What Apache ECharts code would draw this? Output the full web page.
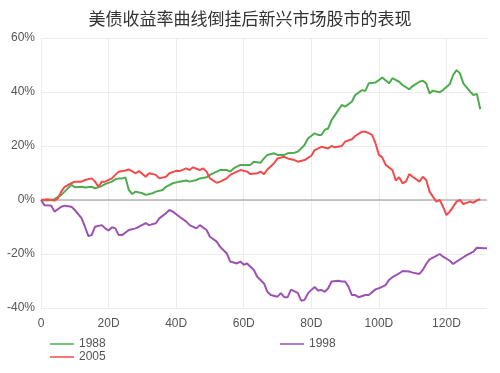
<!DOCTYPE html>
<html>
<head>
<meta charset="utf-8">
<script src="https://cdn.jsdelivr.net/npm/echarts@6/dist/echarts.min.js"></script>
<style>html,body{margin:0;padding:0;background:#fff;}#c{width:500px;height:373px;}</style>
</head>
<body>
<div id="c"></div>
<script>
const titleText = '美债收益率曲线倒挂后新兴市场股市的表现';
const seriesNames = ['1988', '1998', '2005'];
const yTicks = [-40, -20, 0, 20, 40, 60];

const days1988 = [0,2,4,6,7,9,10,12,13,15,16,18,19,21,22,23,24,25,26,27,28,30,31,33,34,36,37,39,41,43,44,46,47,49,50,52,53,55,56,57,59,60,62,63,65,66,67,69,70,72,73,75,76,78,79,81,82,83,84,85,86,88,89,90,92,93,95,96,97,99,100,101,103,104,106,107,109,110,112,113,114,115,116,118,119,121,122,123,124,125,127,128,129,130];
const vals1988 = [0,-0.2,0.3,1.9,3.1,5.6,4.7,4.9,4.6,4.9,4.3,5.2,5.9,6.8,7.7,8,8,8.3,3.7,2.2,3.1,2.5,1.9,2.5,3.1,3.7,4.9,6.2,6.8,7.2,6.8,7.4,8,8.4,9.3,10.5,11.1,11.1,10.5,11.7,13,13,13,14.2,13.8,15.4,16.7,17.3,16.7,16.7,17.3,17.5,17.9,20.4,22.8,24.7,24.1,24.1,26,26.5,29.6,33.3,35.2,34.6,36.4,38.9,40.7,40.4,43.2,43.5,44.4,45.4,43.2,45.1,43.8,42.6,41,42.2,43.8,44.2,43.2,39.5,40.5,39.9,40.7,43,46.3,48.1,46.9,43.2,40.1,38.9,39.3,33.6];

const days1998 = [0,1,3,4,6,7,9,10,12,13,14,15,16,18,19,20,21,22,23,24,26,28,29,31,32,34,35,37,38,39,41,43,44,46,47,49,50,52,53,55,56,58,59,60,61,63,64,66,67,68,70,71,72,73,74,76,77,78,79,80,81,82,83,84,85,86,88,89,90,91,92,93,94,96,97,99,100,102,103,104,106,107,109,110,112,113,114,115,117,118,119,121,122,123,125,126,128,129,131,132];
const vals1998 = [0,-1.9,-2,-4.3,-2.5,-2.1,-2.5,-3.7,-6.7,-9.9,-13.3,-13,-9.9,-9.3,-10.5,-11.3,-10.1,-10.5,-13,-13,-11.1,-10.5,-9.9,-8.6,-9.3,-8.6,-6.8,-4.9,-3.7,-4.3,-6.2,-8,-9.3,-10.5,-9.3,-11.1,-13.6,-15.4,-17.3,-19.8,-22.8,-23.5,-22.8,-24,-23.5,-25.9,-28.4,-30.9,-34,-35.2,-35.8,-34.5,-36,-36,-33.2,-34.4,-37.3,-37,-34.6,-33.3,-32.2,-33.5,-33.3,-34,-32.7,-30.2,-29.9,-30.2,-30.2,-32.1,-35.2,-35.2,-36,-35.2,-35.2,-33.1,-32.7,-31.5,-29.6,-28.6,-27.2,-26.3,-26.5,-26.9,-27.4,-25.9,-23.7,-22,-20.7,-20,-21,-22.5,-23.7,-22.8,-21.2,-20.4,-19.1,-17.7,-17.9,-17.9];

const days2005 = [0,2,4,5,6,7,9,10,12,13,15,16,17,18,19,21,22,23,25,26,28,29,31,32,34,35,37,38,40,41,43,44,45,47,48,49,50,52,53,55,56,58,59,61,62,64,65,66,67,69,70,72,73,75,76,78,80,81,83,85,86,87,89,90,92,93,95,96,98,99,100,101,102,104,105,106,107,108,109,110,112,113,114,115,117,118,119,120,121,123,124,125,127,128,129,130];
const vals2005 = [0,0.3,-0.2,0.6,3.1,4.9,6.2,6.8,6.8,7.4,8,6.8,4.9,6.8,6.8,8,9.3,10.5,10.9,11.3,9.9,10.7,8.6,9.9,9.3,8,8.6,9.9,10.8,10.7,11.7,11.1,12.1,11.1,11.7,10.5,8,6.4,6.8,8,9.3,10.5,11.1,10.5,9.6,9.9,10.5,9.6,11.3,13.6,15.4,16,15.4,14.8,14.2,14.8,16.4,18.5,19.7,19.1,20,19.5,20,21.6,22.5,23.7,25.3,25.3,24.1,21,16.7,15.8,13,11.1,7.2,8.4,6.2,6.8,9.6,8.6,6.8,8.6,7.4,3.1,-0.6,0,-2.5,-5.6,-4.3,-0.6,0,-1.5,-0.6,-1,-0.2,0.3];

const colors = {'1988': '#4fab4f', '1998': '#9c52b2', '2005': '#f24b4b'};
const zip = (d, v) => d.map((x, i) => [x, v[i]]);
const dataMap = {'1988': zip(days1988, vals1988), '1998': zip(days1998, vals1998), '2005': zip(days2005, vals2005)};

const chart = echarts.init(document.getElementById('c'), null, {renderer: 'canvas'});
const font = 'Liberation Sans, Arial, sans-serif';
const lineIcon = 'path://M0,0 L48,0 L48,3 L0,3 Z';
const legendBase = {orient: 'vertical', top: 333, icon: lineIcon, itemWidth: 24, itemHeight: 10, itemGap: 1,
  textStyle: {fontFamily: font, fontSize: 12, color: '#555', lineHeight: 12}};
chart.setOption({
  animation: false,
  backgroundColor: '#fff',
  title: {
    text: titleText, left: 'center', top: 5,
    textStyle: {fontFamily: 'Noto Sans CJK SC', fontSize: 17, fontWeight: 'normal', color: '#333'}
  },
  legend: [
    Object.assign({data: ['1988', '2005'], left: 45}, legendBase),
    Object.assign({data: ['1998'], left: 275}, legendBase)
  ],
  grid: {left: 41, right: 13, top: 38, bottom: 65, containLabel: false},
  xAxis: {
    type: 'value', min: 0, max: 132, interval: 20,
    axisLine: {show: false}, axisTick: {show: false},
    axisLabel: {fontFamily: font, fontSize: 12, color: '#555', showMaxLabel: false, margin: 10,
      formatter: v => (v % 20 !== 0 ? '' : (v === 0 ? '0' : v + 'D'))},
    splitLine: {show: true, showMaxLine: false, lineStyle: {color: '#ececec', width: 1}}
  },
  yAxis: {
    type: 'value', min: yTicks[0], max: yTicks[yTicks.length - 1], interval: 20,
    axisLine: {show: false}, axisTick: {show: false},
    axisLabel: {fontFamily: font, fontSize: 12, color: '#555', margin: 6, formatter: '{value}%'},
    splitLine: {show: true, lineStyle: {color: '#ececec', width: 1}}
  },
  series: seriesNames.map((name, idx) => ({
    name, type: 'line', data: dataMap[name], symbol: 'none', smooth: false,
    lineStyle: {width: 2, color: colors[name]}, itemStyle: {color: colors[name]},
    z: 3 + idx,
    markLine: idx === 0 ? {silent: true, symbol: 'none', label: {show: false},
      lineStyle: {color: '#b5b5b5', width: 1.5, type: 'solid'}, data: [{yAxis: 0}], z: 1} : undefined
  }))
});
</script>
</body>
</html>
